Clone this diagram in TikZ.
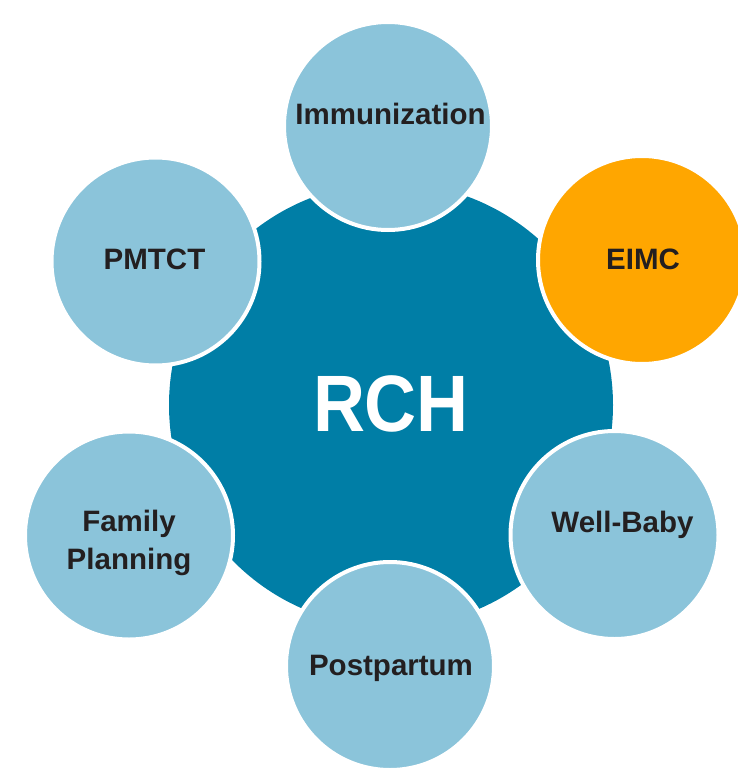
\documentclass[tikz,border=0pt]{standalone}
\usepackage{fontspec}
\setmainfont{Liberation Sans}
\definecolor{hubblue}{RGB}{0,126,166}
\definecolor{petal}{RGB}{139,196,218}
\definecolor{accent}{RGB}{255,166,0}
\definecolor{ink}{RGB}{35,31,32}
\tikzset{
  hub/.style={circle, fill=hubblue, inner sep=0pt, minimum size=444pt},
  petalnode/.style={circle, fill=petal, draw=white, line width=4pt, inner sep=0pt, minimum size=208pt},
  label/.style={text=ink, inner sep=0pt, font=\bfseries\fontsize{29.5}{38}\selectfont},
}
\begin{document}
\begin{tikzpicture}[x=1pt, y=-1pt]
  \useasboundingbox (0,0) rectangle (738,771);
  % central hub
  \node[hub] (rch) at (391,405) {};
  % surrounding services
  \node[petalnode] (imm) at (388,126) {};
  \node[petalnode, fill=accent] (eimc) at (642,260) {};
  \node[petalnode] (well) at (614.5,535) {};
  \node[petalnode] (post) at (390,666) {};
  \node[petalnode] (fam) at (129,535.5) {};
  \node[petalnode] (pmtct) at (155.5,261.5) {};
  % captions
  \node[text=white, inner sep=0pt, anchor=base, font=\bfseries\fontsize{80}{80}\selectfont]
    (rchtext) at (391,431) {\scalebox{0.9}[1]{RCH}};
  \node[label, anchor=base] (immtext) at (390.5,124) {Immunization};
  \node[label, anchor=base] (eimctext) at (643,269) {EIMC};
  \node[label, anchor=base] (welltext) at (622.5,532) {Well-Baby};
  \node[label, anchor=base] (posttext) at (391,675) {Postpartum};
  \node[label, anchor=base] (pmtcttext) at (154.5,269) {PMTCT};
  \node[label, align=center] (famtext) at (129,543) {Family\\Planning};
\end{tikzpicture}
\end{document}
